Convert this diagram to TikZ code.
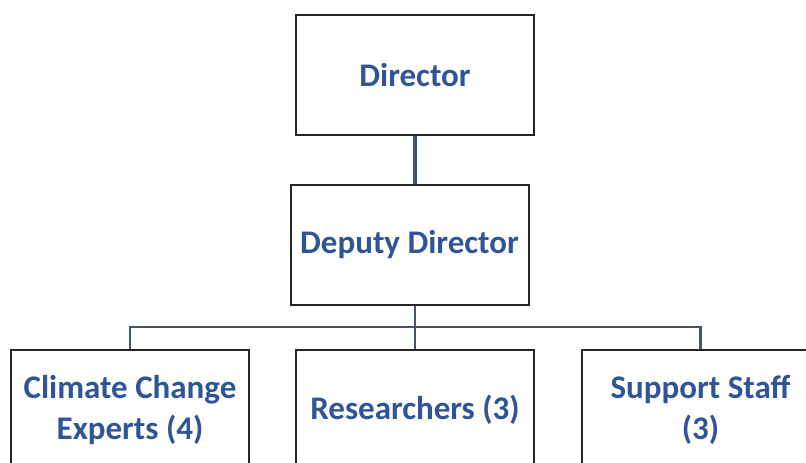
\documentclass[tikz,border=0pt]{standalone}
\usepackage{fontspec}
\setmainfont{Carlito}
\usepackage{tikz}

\definecolor{titleblue}{HTML}{2F5597}
\definecolor{linkgray}{HTML}{44546A}

\begin{document}
\begin{tikzpicture}[x=1pt,y=-1pt]
\tikzstyle{every node}+=[inner sep=0pt]
\tikzstyle{post}=[draw=black!85,line width=2pt,fill=white,minimum width=238pt,minimum height=120pt,align=center,text=titleblue,font=\fontsize{33}{41}\selectfont\bfseries]
\tikzstyle{link}=[draw=linkgray,line width=2.2pt]
\useasboundingbox (0,0) rectangle (806,463);
\clip (0,0) rectangle (806,463);
\node [post] (dir) at (415,75) {Director};
\node [post] (dep) at (409.5,245) {Deputy Director};
\node [post] (cce) at (130,410) {Climate Change\\Experts (4)};
\node [post] (res) at (415,410) {Researchers (3)};
\node [post] (sup) at (700.5,410) {Support Staff\\(3)};
\coordinate (bus) at (415,327);
\draw [link,line width=3.6pt] (dir.south) -- (dir.south |- dep.north);
\draw [link] (dir.south |- dep.south) -- (bus);
\draw [link] (cce.north) -- (cce.north |- bus) -- (sup.north |- bus) -- (sup.north);
\draw [link] (bus) -- (res.north);
\end{tikzpicture}
\end{document}
